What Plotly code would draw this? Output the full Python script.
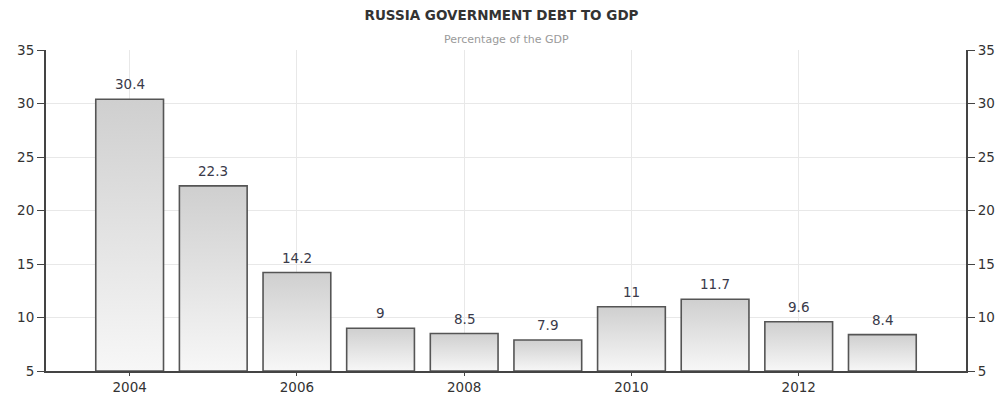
import plotly.graph_objects as go

years = [2004, 2005, 2006, 2007, 2008, 2009, 2010, 2011, 2012, 2013]
debt_pct = [30.4, 22.3, 14.2, 9, 8.5, 7.9, 11, 11.7, 9.6, 8.4]
y_ticks = [5, 10, 15, 20, 25, 30, 35]
x_ticks = [2004, 2006, 2008, 2010, 2012]

Y_MIN, Y_MAX = 5, 35
HALF_W = 0.405
FONT = "DejaVu Sans"

fig = go.Figure()

# each bar as a filled rectangle so it can carry a vertical gradient
for yr, v in zip(years, debt_pct):
    fig.add_trace(go.Scatter(
        x=[yr - HALF_W, yr - HALF_W, yr + HALF_W, yr + HALF_W, yr - HALF_W],
        y=[Y_MIN, v, v, Y_MIN, Y_MIN],
        mode="lines",
        fill="toself",
        fillgradient=dict(type="vertical",
                          colorscale=[[0, "#f7f7f7"], [1, "#cfcfcf"]]),
        line=dict(color="#555555", width=1.6),
        hoverinfo="skip",
        showlegend=False,
    ))

# value labels above the bars
for yr, v in zip(years, debt_pct):
    fig.add_annotation(x=yr, y=v, text=f"{v:g}", showarrow=False,
                       yanchor="bottom", yshift=5,
                       font=dict(family=FONT, size=13.5, color="#3a3a4a"))

# invisible trace to anchor the right-hand axis
fig.add_trace(go.Scatter(x=[years[0]], y=[Y_MIN], yaxis="y2", mode="markers",
                         marker=dict(opacity=0), showlegend=False, hoverinfo="skip"))

axis_font = dict(family=FONT, size=13.5, color="#333333")

fig.update_layout(
    width=1003, height=396,
    margin=dict(l=46, r=37, t=50, b=25),
    paper_bgcolor="white", plot_bgcolor="white",
    title=dict(text="<b>RUSSIA GOVERNMENT DEBT TO GDP</b>",
               x=0.5, xanchor="center", y=0.962, yanchor="middle",
               font=dict(family=FONT, size=13.5, color="#333333")),
    xaxis=dict(range=[2003, 2014], tickvals=x_ticks, ticktext=[str(t) for t in x_ticks],
               showgrid=True, gridcolor="#e8e8e8", gridwidth=1,
               showline=True, linecolor="#444444", linewidth=2,
               ticks="outside", ticklen=3, tickcolor="#444444",
               tickfont=axis_font, zeroline=False, automargin=False),
    yaxis=dict(range=[Y_MIN, Y_MAX], tickvals=y_ticks,
               showgrid=True, gridcolor="#e8e8e8", gridwidth=1,
               showline=True, linecolor="#444444", linewidth=2,
               ticks="outside", ticklen=7, tickcolor="#444444",
               tickfont=axis_font, zeroline=False, automargin=False),
    yaxis2=dict(range=[Y_MIN, Y_MAX], tickvals=y_ticks, overlaying="y", side="right",
                showgrid=False, showline=True, linecolor="#444444", linewidth=2,
                ticks="outside", ticklen=7, tickcolor="#444444",
                tickfont=axis_font, zeroline=False, automargin=False),
    annotations=list(fig.layout.annotations) + [
        dict(text="Percentage of the GDP", xref="paper", yref="paper",
             x=0.5, y=1.0, yanchor="bottom", yshift=2, showarrow=False,
             font=dict(family=FONT, size=11, color="#9a9a9a")),
    ],
)

fig.write_html("out.html")
